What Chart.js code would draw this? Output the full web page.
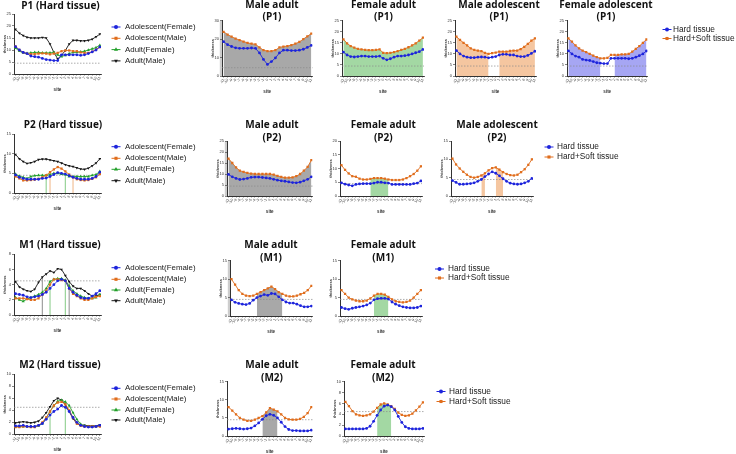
<!DOCTYPE html>
<html>
<head>
<meta charset="utf-8">
<script src="https://cdn.jsdelivr.net/npm/chart.js@4.4.1/dist/chart.umd.min.js"></script>
<style>
  html, body { margin: 0; padding: 0; background: #fff; }
  #wrap { position: relative; width: 736px; height: 454px; overflow: hidden; }
  #wrap canvas { position: absolute; left: 0; top: 0; }
</style>
</head>
<body>
<div id="wrap"></div>
<script>
// x 軸 site 標籤
const sites = ["-11", "-10", "-9", "-8", "-7", "-6", "-5", "-4", "-3", "-2", "-1", "0",
  "1", "2", "3", "4", "5", "6", "7", "8", "9", "10", "11"];
const threshold = 4.5;

// P1
const p1_adultM_hard = [18.6, 17.0, 16.0, 15.3, 15.0, 15.0, 15.0, 15.2, 15.0, 12.5, 9.0, 6.3, 7.8, 9.8, 12.5, 14.0, 14.0, 13.8, 13.8, 14.0, 14.5, 15.5, 16.6];
const p1_adultM_soft = [24.0, 22.5, 21.3, 20.3, 19.5, 18.7, 18.0, 17.5, 17.2, 15.5, 14.0, 13.5, 13.5, 14.0, 15.5, 16.0, 16.2, 16.8, 17.5, 18.5, 20.0, 21.5, 23.0];
const p1_adultF_hard = [10.8, 9.5, 8.8, 8.6, 8.8, 9.0, 9.0, 8.8, 8.8, 8.8, 9.0, 8.0, 7.3, 7.8, 8.5, 9.0, 9.0, 9.2, 9.5, 10.0, 10.5, 11.0, 12.0];
const p1_adultF_soft = [16.6, 14.8, 13.5, 12.8, 12.3, 12.0, 11.8, 11.7, 11.7, 11.8, 12.0, 10.5, 10.3, 10.5, 10.8, 11.2, 11.8, 12.3, 13.0, 13.8, 14.8, 16.0, 17.3];
const p1_adolM_hard = [11.5, 10.0, 9.0, 8.5, 8.3, 8.3, 8.5, 8.6, 8.5, 8.2, 8.5, 8.8, 9.5, 9.8, 9.8, 9.5, 9.5, 9.0, 8.8, 8.8, 9.3, 10.2, 11.2];
const p1_adolM_soft = [17.8, 16.3, 15.0, 13.8, 12.5, 11.8, 11.5, 11.2, 10.5, 10.0, 10.3, 10.6, 11.0, 11.0, 11.0, 11.3, 11.5, 11.5, 12.2, 13.2, 14.5, 16.0, 17.0];
const p1_adolF_hard = [11.4, 10.0, 9.0, 8.5, 7.5, 7.2, 7.0, 6.5, 6.0, 5.8, 5.6, 5.6, 8.0, 8.0, 8.0, 8.0, 8.0, 7.8, 8.0, 8.5, 9.2, 10.0, 11.3];
const p1_adolF_soft = [17.0, 15.5, 13.8, 12.5, 11.5, 10.8, 10.0, 9.2, 8.5, 8.0, 8.0, 8.2, 9.5, 9.5, 9.5, 9.8, 9.8, 10.0, 11.0, 12.3, 13.5, 15.0, 16.5];

// P2
const p2_adultM_hard = [9.8, 8.7, 8.0, 7.5, 7.7, 8.0, 8.5, 8.6, 8.6, 8.4, 8.2, 8.0, 7.6, 7.2, 6.9, 6.7, 6.4, 6.1, 6.0, 6.3, 6.9, 7.6, 8.7];
const p2_adultM_soft = [17.0, 15.0, 13.0, 11.5, 11.0, 10.5, 10.2, 10.0, 10.0, 10.0, 10.0, 10.0, 9.7, 9.2, 8.7, 8.3, 8.3, 8.5, 9.0, 10.0, 11.5, 13.2, 16.3];
const p2_adultF_hard = [4.8, 4.3, 4.0, 3.7, 4.2, 4.4, 4.5, 4.5, 4.5, 4.7, 5.0, 5.0, 4.8, 4.7, 4.2, 4.2, 4.2, 4.2, 4.2, 4.2, 4.5, 4.7, 5.5];
const p2_adultF_soft = [11.2, 9.5, 8.2, 7.2, 7.0, 6.3, 6.0, 6.0, 6.2, 6.5, 6.5, 6.5, 6.3, 6.0, 5.8, 5.8, 5.8, 6.0, 6.5, 7.2, 8.0, 9.2, 10.8];
const p2_adolM_hard = [4.2, 3.7, 3.2, 3.2, 3.3, 3.4, 3.6, 4.0, 4.5, 5.3, 6.0, 6.6, 6.2, 5.5, 4.7, 4.0, 3.5, 3.3, 3.2, 3.3, 3.6, 4.0, 4.8];
const p2_adolM_soft = [10.2, 8.6, 7.5, 6.6, 5.8, 5.2, 5.0, 5.2, 5.6, 6.2, 7.0, 7.6, 7.8, 7.2, 6.5, 6.0, 5.7, 5.6, 5.8, 6.5, 7.3, 8.5, 10.0];
const p2_adolF_hard = [4.6, 4.0, 3.7, 3.5, 3.5, 3.5, 3.5, 3.7, 3.8, 4.2, 4.7, 5.2, 5.0, 4.8, 4.4, 4.0, 3.7, 3.5, 3.5, 3.5, 3.7, 4.2, 5.3];

// M1
const m1_adultM_hard = [4.4, 3.7, 3.4, 3.2, 3.1, 3.4, 4.3, 5.0, 5.4, 5.8, 5.6, 6.1, 6.0, 5.2, 4.4, 3.8, 3.5, 3.5, 3.2, 2.8, 2.5, 2.5, 2.7];
const m1_adultM_soft = [10.0, 8.5, 7.0, 6.0, 5.5, 5.4, 5.5, 6.0, 6.5, 7.0, 7.5, 8.0, 7.3, 6.5, 6.0, 5.5, 5.3, 5.3, 5.5, 5.9, 6.3, 7.0, 8.2];
const m1_adultF_hard = [2.3, 2.0, 1.8, 2.1, 2.3, 2.5, 2.7, 3.0, 3.5, 4.4, 4.7, 4.8, 4.8, 4.6, 3.8, 3.2, 2.8, 2.5, 2.3, 2.2, 2.2, 2.3, 2.7];
const m1_adultF_soft = [7.0, 6.0, 5.0, 4.5, 4.2, 4.0, 4.0, 4.2, 4.8, 5.5, 6.0, 6.0, 5.8, 5.2, 4.5, 4.0, 3.8, 3.7, 3.8, 4.2, 5.0, 6.0, 7.0];
const m1_adolF_hard = [2.8, 2.7, 2.6, 2.4, 2.3, 2.4, 2.5, 2.7, 3.0, 3.5, 4.0, 4.5, 4.7, 4.5, 3.5, 3.0, 2.6, 2.3, 2.2, 2.2, 2.5, 2.8, 3.2];
const m1_adolM_hard = [2.2, 2.2, 2.2, 2.1, 2.0, 2.0, 2.2, 2.7, 3.2, 4.0, 4.7, 4.7, 4.6, 4.5, 3.5, 2.8, 2.5, 2.2, 2.0, 2.0, 2.2, 2.4, 2.5];

// M2
const m2_adultM_hard = [1.9, 2.0, 2.1, 2.0, 1.9, 2.0, 2.2, 2.8, 3.6, 4.6, 5.6, 6.0, 5.7, 5.0, 3.8, 2.6, 1.8, 1.5, 1.5, 1.4, 1.4, 1.4, 1.6];
const m2_adultM_soft = [8.0, 7.0, 6.0, 5.0, 4.5, 4.2, 4.2, 4.5, 5.0, 5.5, 6.5, 7.7, 7.3, 6.8, 6.0, 5.0, 4.6, 4.5, 4.5, 4.7, 5.3, 6.3, 8.0];
const m2_adultF_hard = [1.3, 1.3, 1.3, 1.3, 1.3, 1.3, 1.4, 1.8, 2.7, 3.8, 4.8, 5.5, 5.7, 5.4, 4.8, 3.6, 2.5, 1.7, 1.4, 1.3, 1.3, 1.3, 1.4];
const m2_adultF_soft = [6.3, 5.5, 4.6, 4.0, 3.8, 3.7, 3.8, 4.0, 4.5, 5.2, 5.8, 6.0, 5.8, 5.5, 5.0, 4.3, 3.9, 3.7, 3.8, 4.1, 4.7, 5.4, 6.2];
const m2_adolF_hard = [1.4, 1.4, 1.5, 1.3, 1.3, 1.3, 1.5, 1.8, 2.5, 3.2, 3.8, 4.2, 4.8, 4.5, 3.8, 2.8, 2.0, 1.5, 1.3, 1.2, 1.2, 1.3, 1.5];
const m2_adolM_hard = [1.2, 1.2, 1.3, 1.3, 1.2, 1.2, 1.5, 2.0, 2.8, 3.8, 4.8, 5.3, 5.4, 5.0, 4.0, 2.8, 1.8, 1.4, 1.3, 1.3, 1.3, 1.3, 1.3];

// 填色區間 (site index)
const p1_adultM_fill = [[0, 22]];
const p1_adultF_fill = [[0, 22]];
const p1_adolM_fill = [[0, 9], [12, 22]];
const p1_adolF_fill = [[0, 9], [13, 22]];
const p2_adultM_fill = [[0, 22]];
const p2_adultF_fill = [[8, 13]];
const p2_adolM_fill = [[8, 9], [12, 14]];
const m1_adultM_fill = [[7, 14]];
const m1_adultF_fill = [[9, 13]];
const m2_adultM_fill = [[9, 13]];
const m2_adultF_fill = [[9, 13]];

// Hard tissue 總圖上的垂直標線
const p2_adultF_marks = [8, 13];
const p2_adolM_marks = [9, 15];
const m1_adultM_marks = [7, 14];
const m1_adultF_marks = [9, 13];
const m2_adultF_marks = [9, 13];

const groupLabels = ["Adolescent(Female)", "Adolescent(Male)", "Adult(Female)", "Adult(Male)"];
const tissueLabels = ["Hard tissue", "Hard+Soft tissue"];

// -----------------------------------------------------------------------------------------------------------

const W = 736, H = 454;
const Y_W = 12, X_H = 18;
const BLUE = "#1d24dc", ORANGE = "#e06d1c", GREEN = "#23a02b", BLACK = "#151515";
const groupStyles = [
  { color: BLUE, pointStyle: "circle", radius: 1.4, rotation: 0 },
  { color: ORANGE, pointStyle: "rect", radius: 1.6, rotation: 0 },
  { color: GREEN, pointStyle: "triangle", radius: 1.8, rotation: 0 },
  { color: BLACK, pointStyle: "triangle", radius: 1.6, rotation: 180 },
];
const tissueStyles = [groupStyles[0], groupStyles[1]];
const FILL_GRAY = "#a8a8a8", FILL_GREEN = "#a3d8a3", FILL_PEACH = "#f5c6a0", FILL_BLUE = "#a6a6f3";
const MARK_GRAY = "#a0a0a0", MARK_GREEN = "#98d398", MARK_PEACH = "#f2c198";

const toXY = (arr) => arr.map((v, i) => ({ x: i, y: v }));
const inRanges = (i, ranges) => ranges.some(([a, b]) => i >= a && i <= b);

const panels = [
  // row 1
  { rect: [14, 14, 101, 74], ymax: 25, step: 5, title: ["P1 (Hard tissue)"], tx: 60.5, ty: [6],
    groups: [p1_adolF_hard, p1_adolM_hard, p1_adultF_hard, p1_adultM_hard], marks: [],
    legend: { mx: 116, tx: 125, ys: [27, 38.3, 49.6, 60.9] } },
  { rect: [222, 20.7, 312.5, 76], ymax: 30, step: 10, title: ["Male adult", "(P1)"], tx: 272, ty: [5, 17],
    hard: p1_adultM_hard, soft: p1_adultM_soft, fill: p1_adultM_fill, fillColor: FILL_GRAY, strip: true },
  { rect: [342, 20.7, 424, 76], ymax: 25, step: 5, title: ["Female adult", "(P1)"], tx: 383.5, ty: [5, 17],
    hard: p1_adultF_hard, soft: p1_adultF_soft, fill: p1_adultF_fill, fillColor: FILL_GREEN },
  { rect: [455, 20.7, 536, 76], ymax: 25, step: 5, title: ["Male adolescent", "(P1)"], tx: 499, ty: [5, 17],
    hard: p1_adolM_hard, soft: p1_adolM_soft, fill: p1_adolM_fill, fillColor: FILL_PEACH },
  { rect: [567, 20.7, 647.5, 76], ymax: 25, step: 5, title: ["Female adolescent", "(P1)"], tx: 606, ty: [5, 17],
    hard: p1_adolF_hard, soft: p1_adolF_soft, fill: p1_adolF_fill, fillColor: FILL_BLUE,
    legend: { mx: 667, tx: 673, ys: [29.5, 38.5] } },
  // row 2
  { rect: [14, 134, 101, 193], ymax: 15, step: 5, title: ["P2 (Hard tissue)"], tx: 63, ty: [125],
    groups: [p2_adolF_hard, p2_adolM_hard, p2_adultF_hard, p2_adultM_hard],
    marks: [{ at: p2_adultF_marks, src: p2_adultF_hard, color: MARK_GREEN }, { at: p2_adolM_marks, src: p2_adolM_hard, color: MARK_PEACH }],
    legend: { mx: 116, tx: 125, ys: [146.7, 158.3, 169.3, 180.7] } },
  { rect: [227, 141, 312.5, 196], ymax: 25, step: 5, title: ["Male adult", "(P2)"], tx: 272, ty: [125, 138.3],
    hard: p2_adultM_hard, soft: p2_adultM_soft, fill: p2_adultM_fill, fillColor: FILL_GRAY, strip: true },
  { rect: [340, 141, 422, 196], ymax: 20, step: 5, title: ["Female adult", "(P2)"], tx: 383.3, ty: [125, 138.3],
    hard: p2_adultF_hard, soft: p2_adultF_soft, fill: p2_adultF_fill, fillColor: FILL_GREEN },
  { rect: [451, 141, 533, 196], ymax: 15, step: 5, title: ["Male adolescent", "(P2)"], tx: 497, ty: [125, 138.3],
    hard: p2_adolM_hard, soft: p2_adolM_soft, fill: p2_adolM_fill, fillColor: FILL_PEACH,
    legend: { mx: 549, tx: 557, ys: [147, 157] } },
  // row 3
  { rect: [14, 254.3, 101, 315], ymax: 8, step: 2, title: ["M1 (Hard tissue)"], tx: 60, ty: [245],
    groups: [m1_adolF_hard, m1_adolM_hard, m1_adultF_hard, m1_adultM_hard],
    marks: [{ at: m1_adultM_marks, src: m1_adultM_hard, color: MARK_GRAY }, { at: m1_adultF_marks, src: m1_adultF_hard, color: MARK_GREEN }],
    legend: { mx: 116, tx: 125, ys: [267.7, 279.3, 290, 300.7] } },
  { rect: [230, 260.7, 312.5, 316], ymax: 15, step: 5, title: ["Male adult", "(M1)"], tx: 271, ty: [245, 258.3],
    hard: m1_adultM_hard, soft: m1_adultM_soft, fill: m1_adultM_fill, fillColor: FILL_GRAY, strip: true },
  { rect: [340, 260.7, 422, 316], ymax: 15, step: 5, title: ["Female adult", "(M1)"], tx: 383.3, ty: [245, 258.3],
    hard: m1_adultF_hard, soft: m1_adultF_soft, fill: m1_adultF_fill, fillColor: FILL_GREEN,
    legend: { mx: 439.5, tx: 448, ys: [269, 278] } },
  // row 4
  { rect: [14, 374.3, 101, 434.3], ymax: 10, step: 2, title: ["M2 (Hard tissue)"], tx: 60, ty: [365],
    groups: [m2_adolF_hard, m2_adolM_hard, m2_adultF_hard, m2_adultM_hard],
    marks: [{ at: m2_adultF_marks, src: m2_adultF_hard, color: MARK_GREEN }],
    legend: { mx: 116, tx: 125, ys: [388.3, 399, 410, 420] } },
  { rect: [227, 381.7, 312.5, 436], ymax: 15, step: 5, title: ["Male adult", "(M2)"], tx: 272, ty: [365, 378.3],
    hard: m2_adultM_hard, soft: m2_adultM_soft, fill: m2_adultM_fill, fillColor: FILL_GRAY },
  { rect: [344, 381.7, 424, 436], ymax: 10, step: 2, title: ["Female adult", "(M2)"], tx: 383, ty: [365, 378.3],
    hard: m2_adultF_hard, soft: m2_adultF_soft, fill: m2_adultF_fill, fillColor: FILL_GREEN,
    legend: { mx: 441, tx: 449, ys: [391.5, 401.5] } },
];

function lineDataset(arr, st, order) {
  return {
    data: toXY(arr),
    borderColor: st.color,
    backgroundColor: st.color,
    borderWidth: 0.9,
    pointStyle: st.pointStyle,
    pointRadius: st.radius,
    pointRotation: st.rotation,
    pointBorderWidth: 0,
    tension: 0,
    fill: false,
    order: order,
  };
}

function drawMarker(ctx, st, x, y) {
  if (Chart.helpers && Chart.helpers.drawPoint) {
    Chart.helpers.drawPoint(ctx, { pointStyle: st.pointStyle, radius: st.radius + 0.6, rotation: st.rotation, borderWidth: 0 }, x, y);
  } else {
    ctx.beginPath();
    ctx.arc(x, y, st.radius + 0.6, 0, Math.PI * 2);
    ctx.fill();
  }
}

// 標題、閾值虛線、圖例
function decorPlugin(p) {
  return {
    id: "decor",
    beforeDraw(chart) {
      if (!p.strip) return;
      const { ctx, chartArea: { left, top, bottom } } = chart;
      ctx.save();
      ctx.fillStyle = "#cdcdcd";
      ctx.fillRect(left - 2.2, top, 2.6, bottom - top);
      ctx.restore();
    },
    beforeDatasetsDraw(chart) {
      const { ctx, chartArea: { left, right }, scales: { y } } = chart;
      const yy = y.getPixelForValue(threshold);
      ctx.save();
      ctx.strokeStyle = "#8a8a8a";
      ctx.lineWidth = 0.7;
      ctx.setLineDash([1.5, 1.5]);
      ctx.beginPath();
      ctx.moveTo(left, yy);
      ctx.lineTo(right, yy);
      ctx.stroke();
      ctx.restore();
    },
    afterDraw(chart) {
      const ctx = chart.ctx;
      ctx.save();
      ctx.fillStyle = "#111";
      ctx.font = 'bold 10px "Open Sans"';
      ctx.textAlign = "center";
      ctx.textBaseline = "middle";
      p.title.forEach((t, i) => ctx.fillText(t, p.tx, p.ty[i]));

      if (p.legend) {
        const labels = p.groups ? groupLabels : tissueLabels;
        const styles = p.groups ? groupStyles : tissueStyles;
        ctx.font = p.groups ? '7.9px "Liberation Sans"' : '8.3px "Liberation Sans"';
        ctx.textAlign = "left";
        labels.forEach((label, i) => {
          const st = styles[i];
          const y = p.legend.ys[i];
          ctx.strokeStyle = st.color;
          ctx.lineWidth = 1;
          ctx.beginPath();
          ctx.moveTo(p.legend.mx - 4.5, y);
          ctx.lineTo(p.legend.mx + 4.5, y);
          ctx.stroke();
          ctx.fillStyle = st.color;
          drawMarker(ctx, st, p.legend.mx, y);
          ctx.fillStyle = "#1a1a1a";
          ctx.fillText(label, p.legend.tx, y);
        });
      }
      ctx.restore();
    },
  };
}

function makeChart(p) {
  const canvas = document.createElement("canvas");
  canvas.width = W;
  canvas.height = H;
  document.getElementById("wrap").appendChild(canvas);
  const [L, T, R, B] = p.rect;

  const datasets = [];
  if (p.groups) {
    p.groups.forEach((arr, i) => datasets.push(lineDataset(arr, groupStyles[i], i)));
    p.marks.forEach((m) => {
      m.at.forEach((i) => {
        datasets.push({
          data: [{ x: i, y: 0 }, { x: i, y: m.src[i] }],
          borderColor: m.color,
          borderWidth: 1.2,
          pointRadius: 0,
          fill: false,
          order: 10,
        });
      });
    });
  } else {
    datasets.push(lineDataset(p.hard, tissueStyles[0], 0));
    datasets.push(lineDataset(p.soft, tissueStyles[1], 1));
    // 填色：從 0 到 Hard+Soft 線
    datasets.push({
      data: p.soft.map((v, i) => ({ x: i, y: inRanges(i, p.fill) ? v : null })),
      borderWidth: 0,
      borderColor: "rgba(0,0,0,0)",
      backgroundColor: p.fillColor,
      pointRadius: 0,
      tension: 0,
      spanGaps: false,
      fill: "origin",
      order: 10,
    });
  }

  new Chart(canvas, {
    type: "line",
    data: { datasets },
    options: {
      responsive: false,
      animation: false,
      events: [],
      layout: {
        padding: { left: L - Y_W, top: T, right: W - R, bottom: H - B - X_H },
      },
      plugins: {
        legend: { display: false },
        tooltip: { enabled: false },
        filler: { drawTime: "beforeDatasetsDraw" },
      },
      scales: {
        x: {
          type: "linear",
          min: -0.4,
          max: 22.3,
          afterFit: (s) => { s.height = X_H; },
          afterBuildTicks: (s) => { s.ticks = sites.map((_, i) => ({ value: i })); },
          ticks: {
            autoSkip: false,
            minRotation: 60,
            maxRotation: 60,
            padding: 0.5,
            color: "#333",
            font: { size: 3.6, family: "Liberation Sans" },
            callback: (v) => sites[v],
          },
          grid: { drawOnChartArea: false, tickLength: 1.5, color: "#333", lineWidth: 0.6 },
          border: { color: "#333", width: 1 },
          title: {
            display: true,
            text: "site",
            color: "#333",
            padding: 0,
            font: { size: 4.5, weight: "bold", family: "Liberation Sans" },
          },
        },
        y: {
          min: 0,
          max: p.ymax,
          afterFit: (s) => { s.width = Y_W; },
          ticks: {
            stepSize: p.step,
            padding: 1,
            color: "#333",
            font: { size: 4, family: "Liberation Sans" },
          },
          grid: { drawOnChartArea: false, tickLength: 2, color: "#333", lineWidth: 0.6 },
          border: { color: "#333", width: 1 },
          title: {
            display: true,
            text: "thickness",
            color: "#333",
            padding: 0,
            font: { size: 4, weight: "bold", family: "Liberation Sans" },
          },
        },
      },
    },
    plugins: [decorPlugin(p)],
  });
}

panels.forEach(makeChart);
</script>
</body>
</html>
